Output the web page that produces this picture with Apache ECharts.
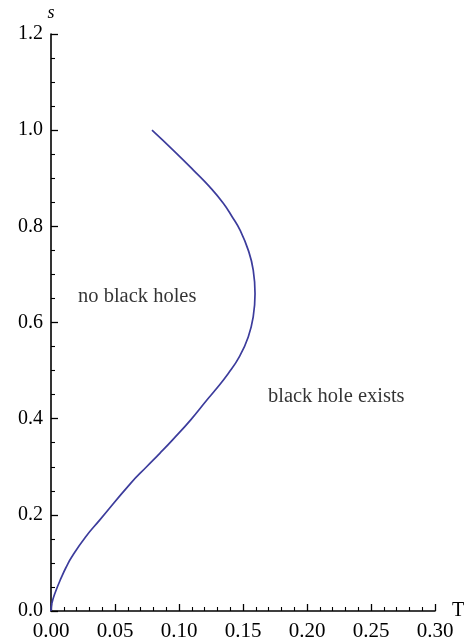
<!DOCTYPE html>
<html>
<head>
<meta charset="utf-8">
<script src="https://cdn.jsdelivr.net/npm/echarts@6/dist/echarts.min.js"></script>
<style>
  html, body { margin: 0; padding: 0; background: #fff; }
  #chart { width: 473px; height: 644px; }
</style>
</head>
<body>
<div id="chart"></div>
<script>
// Boundary curve s(T): temperature values paired with s values, traced from s = 0 up to s = 1
const boundaryT = [0, 0.0006, 0.0031, 0.0083, 0.0120, 0.0163, 0.0270, 0.0380, 0.0622, 0.0747, 0.0850, 0.0950, 0.1090, 0.1218, 0.1282, 0.1385, 0.1472, 0.1541, 0.1580, 0.1594, 0.1580, 0.1541, 0.1477, 0.1415, 0.1346, 0.1240, 0.1112, 0.0956, 0.0789];
const boundaryS = [0, 0.015, 0.037, 0.071, 0.092, 0.113, 0.154, 0.189, 0.2655, 0.300, 0.328, 0.356, 0.397, 0.4387, 0.459, 0.494, 0.529, 0.570, 0.612, 0.660, 0.709, 0.7505, 0.792, 0.820, 0.848, 0.882, 0.917, 0.958, 1.0];

// Axis ticks
const xTicks = [0.00, 0.05, 0.10, 0.15, 0.20, 0.25, 0.30];
const yTicks = [0.0, 0.2, 0.4, 0.6, 0.8, 1.0, 1.2];

// Region annotations: [T, s, text]
const regionLabels = [
  [0.0211, 0.653, 'no black holes'],
  [0.1695, 0.445, 'black hole exists']
];

const serif = '"Liberation Serif", "DejaVu Serif", serif';
const chart = echarts.init(document.getElementById('chart'));

chart.setOption({
  animation: false,
  backgroundColor: '#fff',
  grid: { left: 51, right: 38, top: 34, bottom: 33, containLabel: false },
  xAxis: {
    type: 'value',
    min: xTicks[0],
    max: xTicks[xTicks.length - 1],
    interval: 0.05,
    name: 'T',
    nameLocation: 'end',
    nameGap: 17,
    nameTextStyle: { fontFamily: serif, fontSize: 20, color: '#000', verticalAlign: 'middle', padding: [14, 0, 0, 0] },
    axisLine: { show: true, onZero: false, lineStyle: { color: '#000', width: 1.6 } },
    axisTick: { show: true, inside: true, length: 7, lineStyle: { color: '#000', width: 1.3 } },
    minorTick: { show: true, splitNumber: 5, length: 4, lineStyle: { color: '#000', width: 1.1 } },
    axisLabel: { margin: 10, fontFamily: serif, fontSize: 21, color: '#000', formatter: v => v.toFixed(2) },
    splitLine: { show: false }
  },
  yAxis: {
    type: 'value',
    min: yTicks[0],
    max: yTicks[yTicks.length - 1],
    interval: 0.2,
    name: 's',
    nameLocation: 'end',
    nameGap: 12,
    nameTextStyle: { fontFamily: serif, fontSize: 18, fontStyle: 'italic', color: '#000', align: 'center' },
    axisLine: { show: true, onZero: false, lineStyle: { color: '#000', width: 1.6 } },
    axisTick: { show: true, inside: true, length: 7, lineStyle: { color: '#000', width: 1.3 } },
    minorTick: { show: true, splitNumber: 4, length: 4, lineStyle: { color: '#000', width: 1.1 } },
    axisLabel: { margin: 8, fontFamily: serif, fontSize: 20, color: '#000', formatter: v => v.toFixed(1) },
    splitLine: { show: false }
  },
  series: [
    {
      type: 'line',
      data: boundaryT.map((t, i) => [t, boundaryS[i]]),
      smooth: 0.5,
      showSymbol: false,
      lineStyle: { color: '#3c3c9c', width: 1.7 },
      z: 3
    },
    {
      type: 'scatter',
      symbolSize: 0,
      silent: true,
      data: regionLabels.map(d => ({ value: [d[0], d[1]], name: d[2] })),
      label: {
        show: true,
        position: 'right',
        distance: 0,
        formatter: p => p.name,
        fontFamily: serif,
        fontSize: 20.5,
        color: '#000'
      }
    }
  ]
});
</script>
</body>
</html>
